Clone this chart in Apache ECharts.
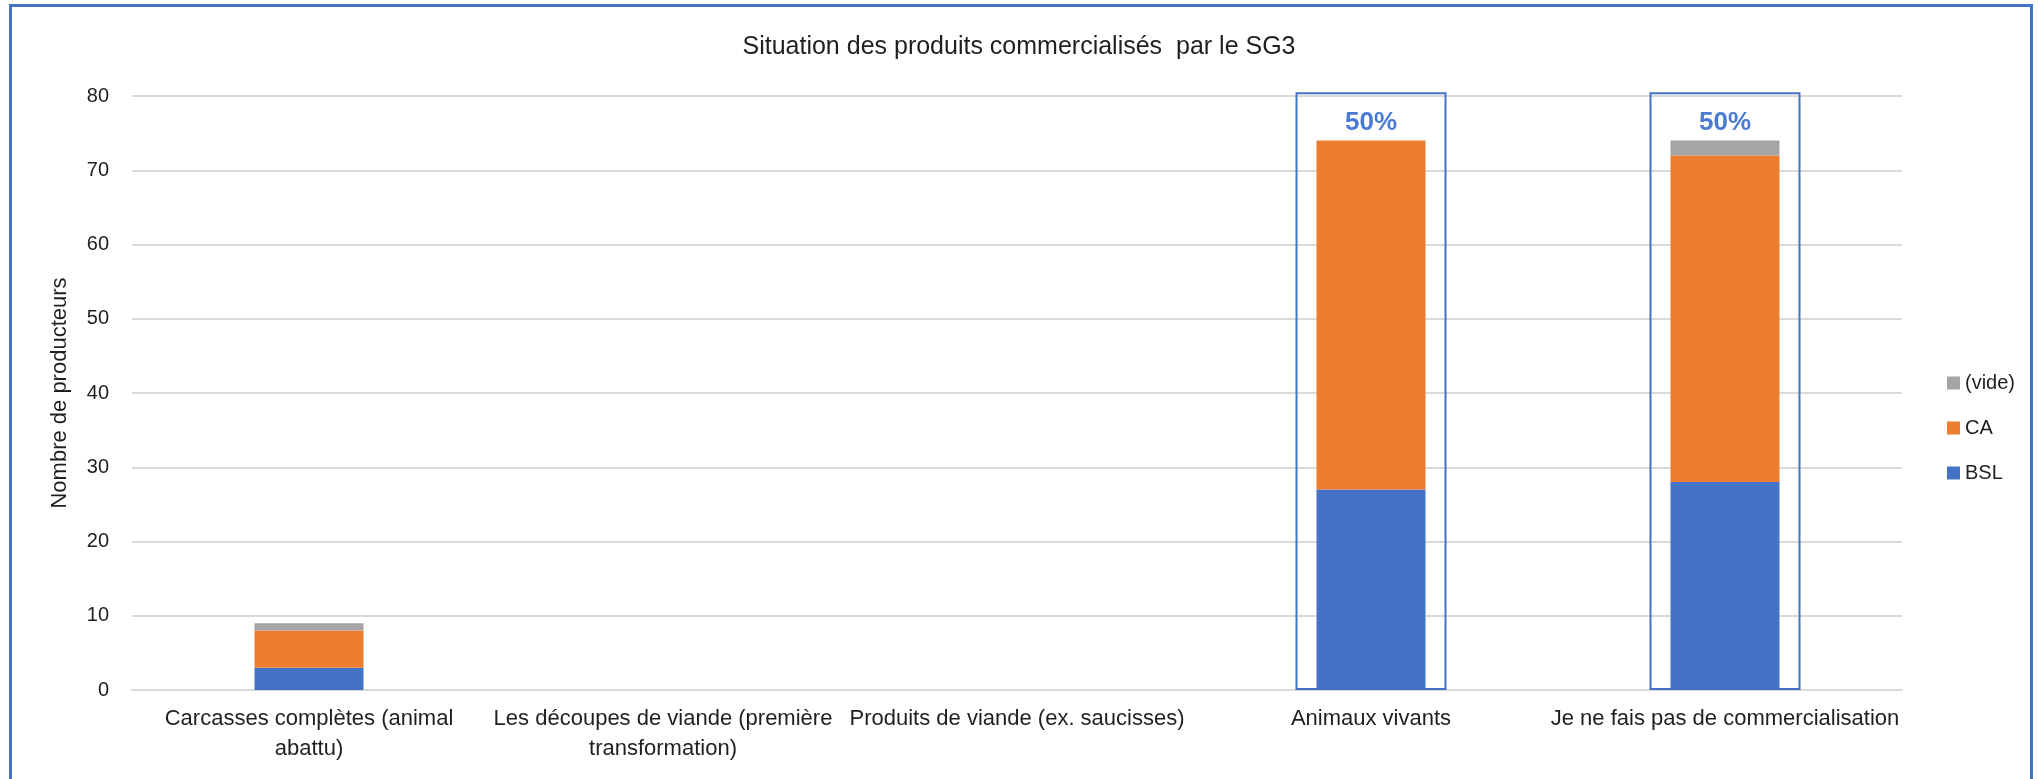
<!DOCTYPE html>
<html>
<head>
<meta charset="utf-8">
<script src="https://cdn.jsdelivr.net/npm/echarts@6/dist/echarts.min.js"></script>
<style>
  html, body { margin: 0; padding: 0; background: #fff; }
  #frame { position: absolute; left: 9px; top: 4px; width: 2024px; height: 800px; border: 3px solid #4472C4; box-sizing: border-box; }
  #chart { position: absolute; left: 0; top: 0; width: 2038px; height: 779px; }
</style>
</head>
<body>
<div id="frame"></div>
<div id="chart"></div>
<script>
const titleText = 'Situation des produits commercialisés  par le SG3';
const categories = [
  'Carcasses complètes (animal\nabattu)',
  'Les découpes de viande (première\ntransformation)',
  'Produits de viande (ex. saucisses)',
  'Animaux vivants',
  'Je ne fais pas de commercialisation'
];
const bslValues  = [3, 0, 0, 27, 28];
const caValues   = [5, 0, 0, 47, 44];
const videValues = [1, 0, 0, 0, 2];
const highlightTop = ['-', '-', '-', 80.5, 80.5];
const highlightLabels = ['', '', '', '50%', '50%'];
const yTicks = { min: 0, max: 80, interval: 10 };

const FONT = '"Liberation Sans", Arial, sans-serif';
const chart = echarts.init(document.getElementById('chart'), null, { renderer: 'canvas' });

chart.setOption({
  animation: false,
  backgroundColor: 'transparent',
  title: {
    text: titleText,
    left: 'center',
    top: 30,
    textStyle: { fontFamily: FONT, fontSize: 25, fontWeight: 'normal', color: '#1f1f1f' }
  },
  legend: {
    orient: 'vertical',
    left: 1942,
    top: 368,
    itemWidth: 13,
    itemHeight: 13,
    itemGap: 25,
    icon: 'rect',
    data: ['(vide)', 'CA', 'BSL'],
    textStyle: { fontFamily: FONT, fontSize: 20, color: '#1f1f1f' }
  },
  grid: { left: 132, right: 136, top: 96, bottom: 89, containLabel: false },
  xAxis: [
    {
      type: 'category',
      data: categories,
      axisLine: { lineStyle: { color: '#D9D9D9', width: 2 } },
      axisTick: { show: false },
      axisLabel: { fontFamily: FONT, fontSize: 22, color: '#1f1f1f', margin: 14, lineHeight: 30, interval: 0 }
    },
    {
      type: 'category',
      data: categories,
      show: false
    }
  ],
  yAxis: {
    type: 'value',
    min: yTicks.min,
    max: yTicks.max,
    interval: yTicks.interval,
    name: 'Nombre de producteurs',
    nameLocation: 'middle',
    nameGap: 61,
    nameTextStyle: { fontFamily: FONT, fontSize: 22, color: '#1f1f1f' },
    axisLine: { show: false },
    axisTick: { show: false },
    axisLabel: { fontFamily: FONT, fontSize: 20, color: '#1f1f1f', margin: 23 },
    splitLine: { lineStyle: { color: '#D9D9D9', width: 2 } }
  },
  series: [
    {
      name: 'BSL', type: 'bar', stack: 'total', data: bslValues,
      barWidth: 109, itemStyle: { color: '#4472C4' }
    },
    {
      name: 'CA', type: 'bar', stack: 'total', data: caValues,
      barWidth: 109, itemStyle: { color: '#ED7D31' }
    },
    {
      name: '(vide)', type: 'bar', stack: 'total', data: videValues,
      barWidth: 109, itemStyle: { color: '#A5A5A5' }
    },
    {
      name: 'highlight', type: 'bar', xAxisIndex: 1, data: highlightTop,
      barWidth: 151, clip: false, z: 5, silent: true,
      itemStyle: { color: 'rgba(0,0,0,0)', borderColor: '#4472C4', borderWidth: 2 },
      label: {
        show: true, position: 'insideTop', distance: 18,
        formatter: p => highlightLabels[p.dataIndex],
        fontFamily: FONT, fontSize: 26, fontWeight: 'bold', color: '#4A7BD1'
      }
    }
  ]
});
</script>
</body>
</html>
